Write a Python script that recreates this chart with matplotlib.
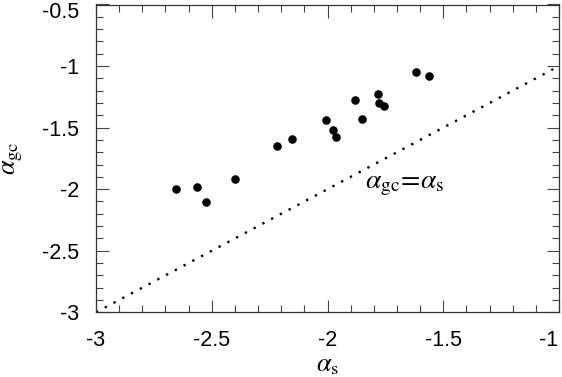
import matplotlib
matplotlib.use("Agg")
import matplotlib.pyplot as plt
from matplotlib.ticker import MultipleLocator
from matplotlib.transforms import ScaledTranslation

alpha_s = [-2.654, -2.562, -2.525, -2.401, -2.217, -2.152, -2.008, -1.976,
           -1.965, -1.882, -1.850, -1.781, -1.779, -1.757, -1.619, -1.562]
alpha_gc = [-1.999, -1.985, -2.102, -1.915, -1.647, -1.595, -1.438, -1.517,
            -1.574, -1.278, -1.430, -1.227, -1.303, -1.322, -1.051, -1.081]
line_x = [-3, -1]
line_y = [-3, -1]
xticks = [-3, -2.5, -2, -1.5, -1]
xticklabels = ["-3", "-2.5", "-2", "-1.5", "-1"]
yticks = [-3, -2.5, -2, -1.5, -1, -0.5]
yticklabels = ["-3", "-2.5", "-2", "-1.5", "-1", "-0.5"]

plt.rcParams['font.family'] = ['Liberation Sans', 'DejaVu Sans']
plt.rcParams['mathtext.fontset'] = 'stix'

fig = plt.figure(figsize=(5.62, 3.77), dpi=100)
ax = fig.add_axes([96/562, 1-312.3/377, (559-96)/562, (312.3-4.5)/377])

ax.plot(line_x, line_y, color='black', linestyle=(0, (1, 3.2)), linewidth=1.7)
ax.scatter(alpha_s, alpha_gc, s=38, color='black', zorder=3, linewidths=0)

ax.set_xlim(-3, -1)
ax.set_ylim(-3, -0.5)
ax.set_xticks(xticks)
ax.set_xticklabels(xticklabels)
ax.set_yticks(yticks)
ax.set_yticklabels(yticklabels)
ax.xaxis.set_minor_locator(MultipleLocator(0.1))
ax.yaxis.set_minor_locator(MultipleLocator(0.1))
ax.tick_params(which='both', direction='in', top=True, right=True, width=0.8, color='#444444')
ax.tick_params(which='major', length=9, labelsize=15.5)
ax.tick_params(axis='x', which='major', pad=13)
ax.tick_params(axis='y', which='major', pad=12)
ax.tick_params(which='minor', length=5)
for sp in ax.spines.values():
    sp.set_linewidth(0.9)
    sp.set_color('#333333')

# keep edge labels inside the picture
xl = ax.get_xticklabels()[-1]
xl.set_transform(xl.get_transform() + ScaledTranslation(-10/100, 0, fig.dpi_scale_trans))
yl = ax.get_yticklabels()[-1]
yl.set_transform(yl.get_transform() + ScaledTranslation(0, -6/100, fig.dpi_scale_trans))

ax.set_xlabel(r'$\alpha_{\rm s}$', fontsize=19, labelpad=1)
ax.set_ylabel(r'$\alpha_{\rm gc}$', fontsize=19, labelpad=12)
ax.text(-1.665, -1.966, r'$\alpha_{\rm gc}\!=\!\alpha_{\rm s}$', fontsize=20,
        ha='center', va='center')

fig.savefig('out.png', dpi=100)
